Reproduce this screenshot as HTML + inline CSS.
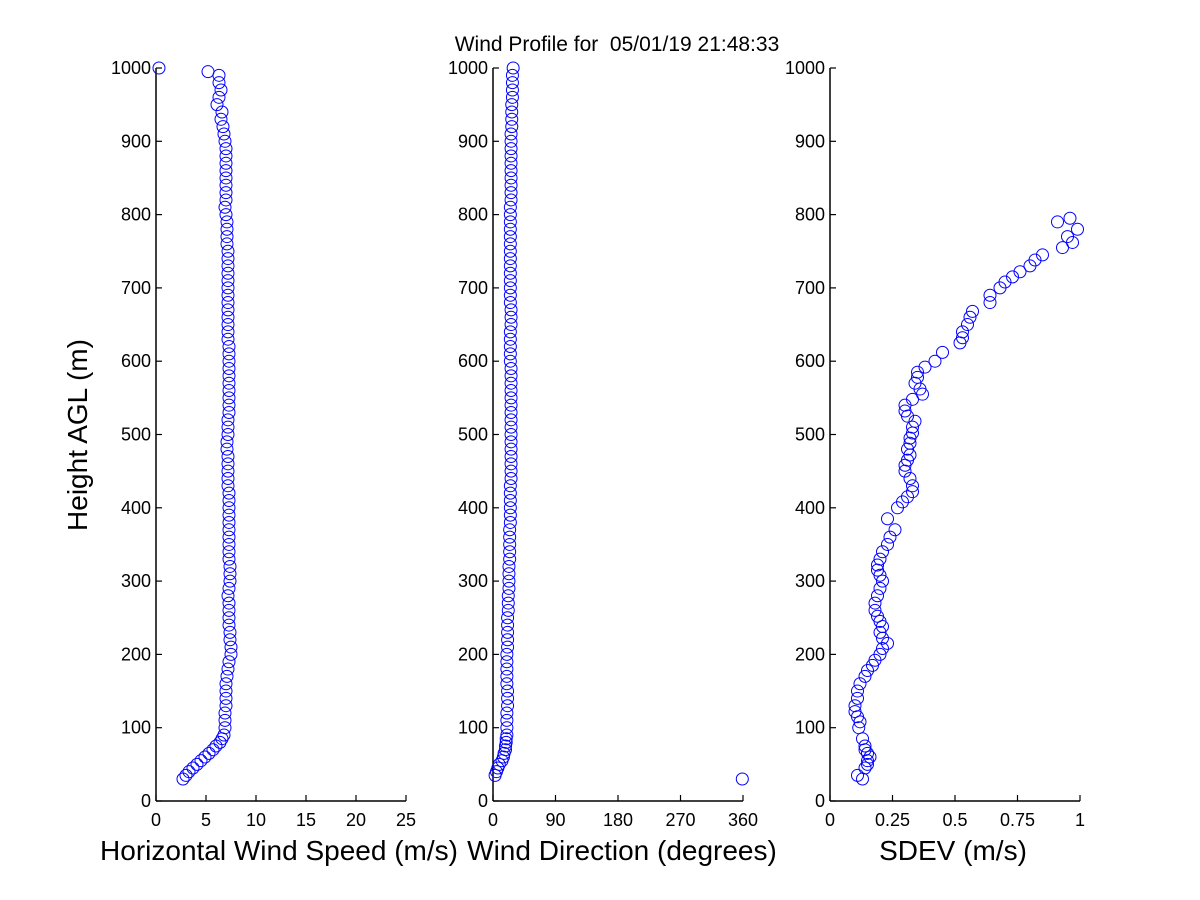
<!DOCTYPE html>
<html><head><meta charset="utf-8"><style>
body{margin:0;background:#fff;}
svg{display:block;font-family:"Liberation Sans",Arial,sans-serif;}
</style></head><body>
<svg id="c" width="1200" height="900" xmlns="http://www.w3.org/2000/svg">
<rect width="1200" height="900" fill="#fff"/>
<text x="617" y="51" font-size="21" text-anchor="middle" style="white-space:pre">Wind Profile for  05/01/19 21:48:33</text>
<text transform="translate(87,435) rotate(-90)" font-size="28" text-anchor="middle">Height AGL (m)</text>
</svg>
<script>
// Panel 1: horizontal wind speed
const speedHeights = [30,35,40,45,50,55,60,65,70,75,80,85,90,100,110,120,130,140,150,160,170,180,190,200,210,220,230,240,250,260,270,280,290,300,310,320,330,340,350,360,370,380,390,400,410,420,430,440,450,460,470,480,490,500,510,520,530,540,550,560,570,580,590,600,610,620,630,640,650,660,670,680,690,700,710,720,730,740,750,760,770,780,790,800,810,820,830,840,850,860,870,880,890,900,910,920,930,940,950,960,970,980,990,995,1000];
const speedValues  = [2.7,3.0,3.3,3.7,4.1,4.5,4.9,5.3,5.7,6.0,6.4,6.6,6.8,6.9,6.9,6.9,7.0,7.0,7.0,7.0,7.1,7.2,7.3,7.5,7.5,7.4,7.4,7.3,7.3,7.3,7.3,7.2,7.3,7.4,7.4,7.4,7.3,7.3,7.3,7.3,7.3,7.3,7.3,7.3,7.3,7.3,7.2,7.2,7.2,7.2,7.2,7.1,7.1,7.2,7.2,7.2,7.3,7.3,7.3,7.3,7.3,7.3,7.3,7.3,7.3,7.3,7.2,7.2,7.2,7.2,7.2,7.2,7.2,7.2,7.2,7.2,7.2,7.2,7.2,7.1,7.1,7.1,7.1,7.0,6.9,7.0,7.0,7.0,7.0,7.0,7.0,7.0,7.0,6.9,6.8,6.7,6.5,6.6,6.1,6.3,6.5,6.3,6.3,5.2,0.3];
const speedTicks = [0,5,10,15,20,25];
// Panel 2: wind direction
const dirHeights = [30,35,40,45,50,55,60,65,70,75,80,85,90,100,110,120,130,140,150,160,170,180,190,200,210,220,230,240,250,260,270,280,290,300,310,320,330,340,350,360,370,380,390,400,410,420,430,440,450,460,470,480,490,500,510,520,530,540,550,560,570,580,590,600,610,620,630,640,650,660,670,680,690,700,710,720,730,740,750,760,770,780,790,800,810,820,830,840,850,860,870,880,890,900,910,920,930,940,950,960,970,980,990,1000];
const dirValues  = [359,3,5,7,9,13,15,16,18,18,19,19,20,20,20,20,21,21,21,20,20,20,20,20,21,21,21,21,21,22,22,22,23,23,23,23,24,24,24,24,24,25,25,25,25,25,25,26,26,26,26,26,26,26,26,26,26,26,26,26,26,26,26,25,25,25,25,25,26,26,26,25,25,25,25,25,25,25,25,25,25,25,25,25,25,26,26,26,26,26,26,26,26,26,26,27,27,27,27,28,28,28,28,29];
const dirTicks = [0,90,180,270,360];
// Panel 3: SDEV
const sdHeights = [30,35,45,50,55,60,65,70,75,85,100,108,115,122,130,140,150,160,170,178,185,192,200,208,215,222,230,238,245,252,260,270,280,290,300,308,315,322,330,340,350,360,370,385,400,408,415,422,430,440,450,458,465,472,480,488,495,502,510,518,525,532,540,548,555,562,570,578,585,592,600,612,625,632,640,650,660,668,680,690,700,708,715,722,730,738,745,755,762,770,780,790,795];
const sdValues  = [0.13,0.11,0.14,0.15,0.15,0.16,0.15,0.14,0.14,0.13,0.115,0.12,0.11,0.10,0.10,0.11,0.11,0.12,0.14,0.15,0.17,0.18,0.20,0.21,0.23,0.21,0.20,0.21,0.20,0.19,0.18,0.18,0.19,0.20,0.21,0.20,0.19,0.19,0.20,0.21,0.23,0.24,0.26,0.23,0.27,0.29,0.31,0.33,0.33,0.32,0.30,0.30,0.31,0.32,0.31,0.32,0.32,0.33,0.33,0.34,0.31,0.30,0.30,0.33,0.37,0.36,0.34,0.35,0.35,0.38,0.42,0.45,0.52,0.53,0.53,0.55,0.56,0.57,0.64,0.64,0.68,0.70,0.73,0.76,0.80,0.82,0.85,0.93,0.97,0.95,0.99,0.91,0.96];
const yTicks = [0,100,200,300,400,500,600,700,800,900,1000];

const NS='http://www.w3.org/2000/svg';
const svg=document.getElementById('c');
const Y0=801, Y1=68;
function yScale(h){return Y0-(h/1000)*(Y0-Y1);}
function mk(tag,attrs,parent){const e=document.createElementNS(NS,tag);for(const k in attrs)e.setAttribute(k,attrs[k]);(parent||svg).appendChild(e);return e;}

function panel(id,x0,x1,xmax,xticks,xlabels,title,titleX,hs,vs){
  const g=mk('g',{});
  
  
  const xs=v=>x0+(v/xmax)*(x1-x0);
  const ay=mk('line',{x1:x0,y1:Y1,x2:x0,y2:Y0,stroke:'#000','stroke-width':1.5},g);
  
  
  const ax=mk('line',{x1:x0,y1:Y0,x2:x1,y2:Y0,stroke:'#000','stroke-width':1.5},g);
  
  
  yTicks.forEach(t=>{
    const y=yScale(t);
    mk('line',{x1:x0,y1:y,x2:x0+6,y2:y,stroke:'#000','stroke-width':1.2},g);
    const tx=mk('text',{x:x0-5,y:y+6,'font-size':18,'text-anchor':'end'},g);
    tx.textContent=t;
    
    
  });
  xticks.forEach((t,i)=>{
    const x=xs(t);
    mk('line',{x1:x,y1:Y0,x2:x,y2:Y0-6,stroke:'#000','stroke-width':1.2},g);
    const tx=mk('text',{x:x,y:Y0+25,'font-size':18,'text-anchor':'middle'},g);
    tx.textContent=xlabels[i];
    
    
  });
  const tt=mk('text',{x:titleX,y:860,'font-size':28,'text-anchor':'middle'},g);
  tt.textContent=title;
  
  
  for(let i=0;i<hs.length;i++){
    const c=mk('circle',{cx:xs(vs[i]),cy:yScale(hs[i]),r:6,fill:'none',stroke:'#0000ff','stroke-width':1},g);
    
    
  }
}
panel('speed',156,406,25,speedTicks,speedTicks.map(String),'Horizontal Wind Speed (m/s)',279,speedHeights,speedValues);
panel('direction',493,743,360,dirTicks,dirTicks.map(String),'Wind Direction (degrees)',622,dirHeights,dirValues);
panel('sdev',830,1080,1,[0,0.25,0.5,0.75,1],['0','0.25','0.5','0.75','1'],'SDEV  (m/s)',953,sdHeights,sdValues);
</script>
</body></html>
